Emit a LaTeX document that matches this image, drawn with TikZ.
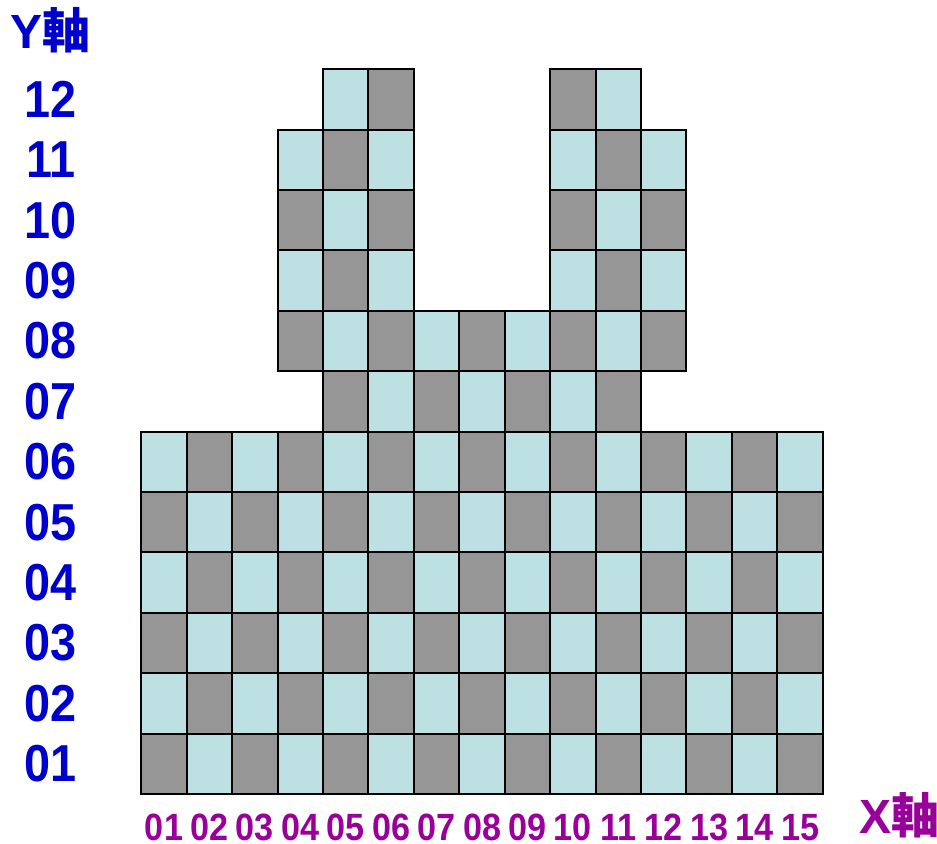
\documentclass[tikz,border=0pt]{standalone}
\usepackage{fontspec}
\setmainfont{Liberation Sans}
\newfontfamily\labfont{Liberation Sans}[FakeStretch=0.9]
\newfontfamily\cjkfont{Noto Sans CJK TC}
\definecolor{cellgray}{RGB}{150,150,150}
\definecolor{celllight}{RGB}{189,224,227}
\definecolor{ylabblue}{RGB}{0,0,204}
\definecolor{xlabpurple}{RGB}{153,0,153}
\newcommand{\sqcell}[2]{
    \pgfmathtruncatemacro{\cellsum}{#1+#2}
    \ifodd\cellsum\def\cellfill{celllight}\else\def\cellfill{cellgray}\fi
    \draw[cellbox,fill=\cellfill] (#1-1,#2-1) rectangle (#1,#2);
}
\tikzset{
    cellbox/.style={draw=black,line width=1pt},
    ylab/.style={text=ylabblue,font=\labfont\fontsize{26}{26}\selectfont\bfseries,inner sep=0pt},
    xlab/.style={text=xlabpurple,font=\labfont\fontsize{19}{19}\selectfont\bfseries,inner sep=0pt,anchor=base},
    axistitle/.style={font=\fontsize{24}{24}\selectfont\bfseries,inner sep=0pt,anchor=base west}
}
\begin{document}
\begin{tikzpicture}[x=22.715pt,y=30.2pt]
        \useasboundingbox (-70.65pt,-24.5pt) rectangle (397.85pt,397pt);
        \foreach \r in {1,...,6}{
            \foreach \c in {1,...,15}{\sqcell{\c}{\r}}
        }
        \foreach \c in {5,...,11}{\sqcell{\c}{7}}
        \foreach \c in {4,...,12}{\sqcell{\c}{8}}
        \foreach \r in {9,10,11}{
            \foreach \c in {4,5,6,10,11,12}{\sqcell{\c}{\r}}
        }
        \foreach \c in {5,6,10,11}{\sqcell{\c}{12}}
        \foreach \lab [count=\r] in {01,02,03,04,05,06,07,08,09,10,11,12}{
            \node[ylab,xshift=-45.15pt] (y\lab) at (0,\r-0.5) {\lab};
        }
        \foreach \lab [count=\c] in {01,02,03,04,05,06,07,08,09,10,11,12,13,14,15}{
            \node[xlab,yshift=-23pt] (x\lab) at (\c-0.5,0) {\lab};
        }
        \node[axistitle,text=ylabblue] (yaxis) at (-65.65pt,373pt) {Y{\cjkfont 軸}};
        \node[axistitle,text=xlabpurple] (xaxis) at (358.85pt,-19.5pt) {X{\cjkfont 軸}};
    \end{tikzpicture}
\end{document}
